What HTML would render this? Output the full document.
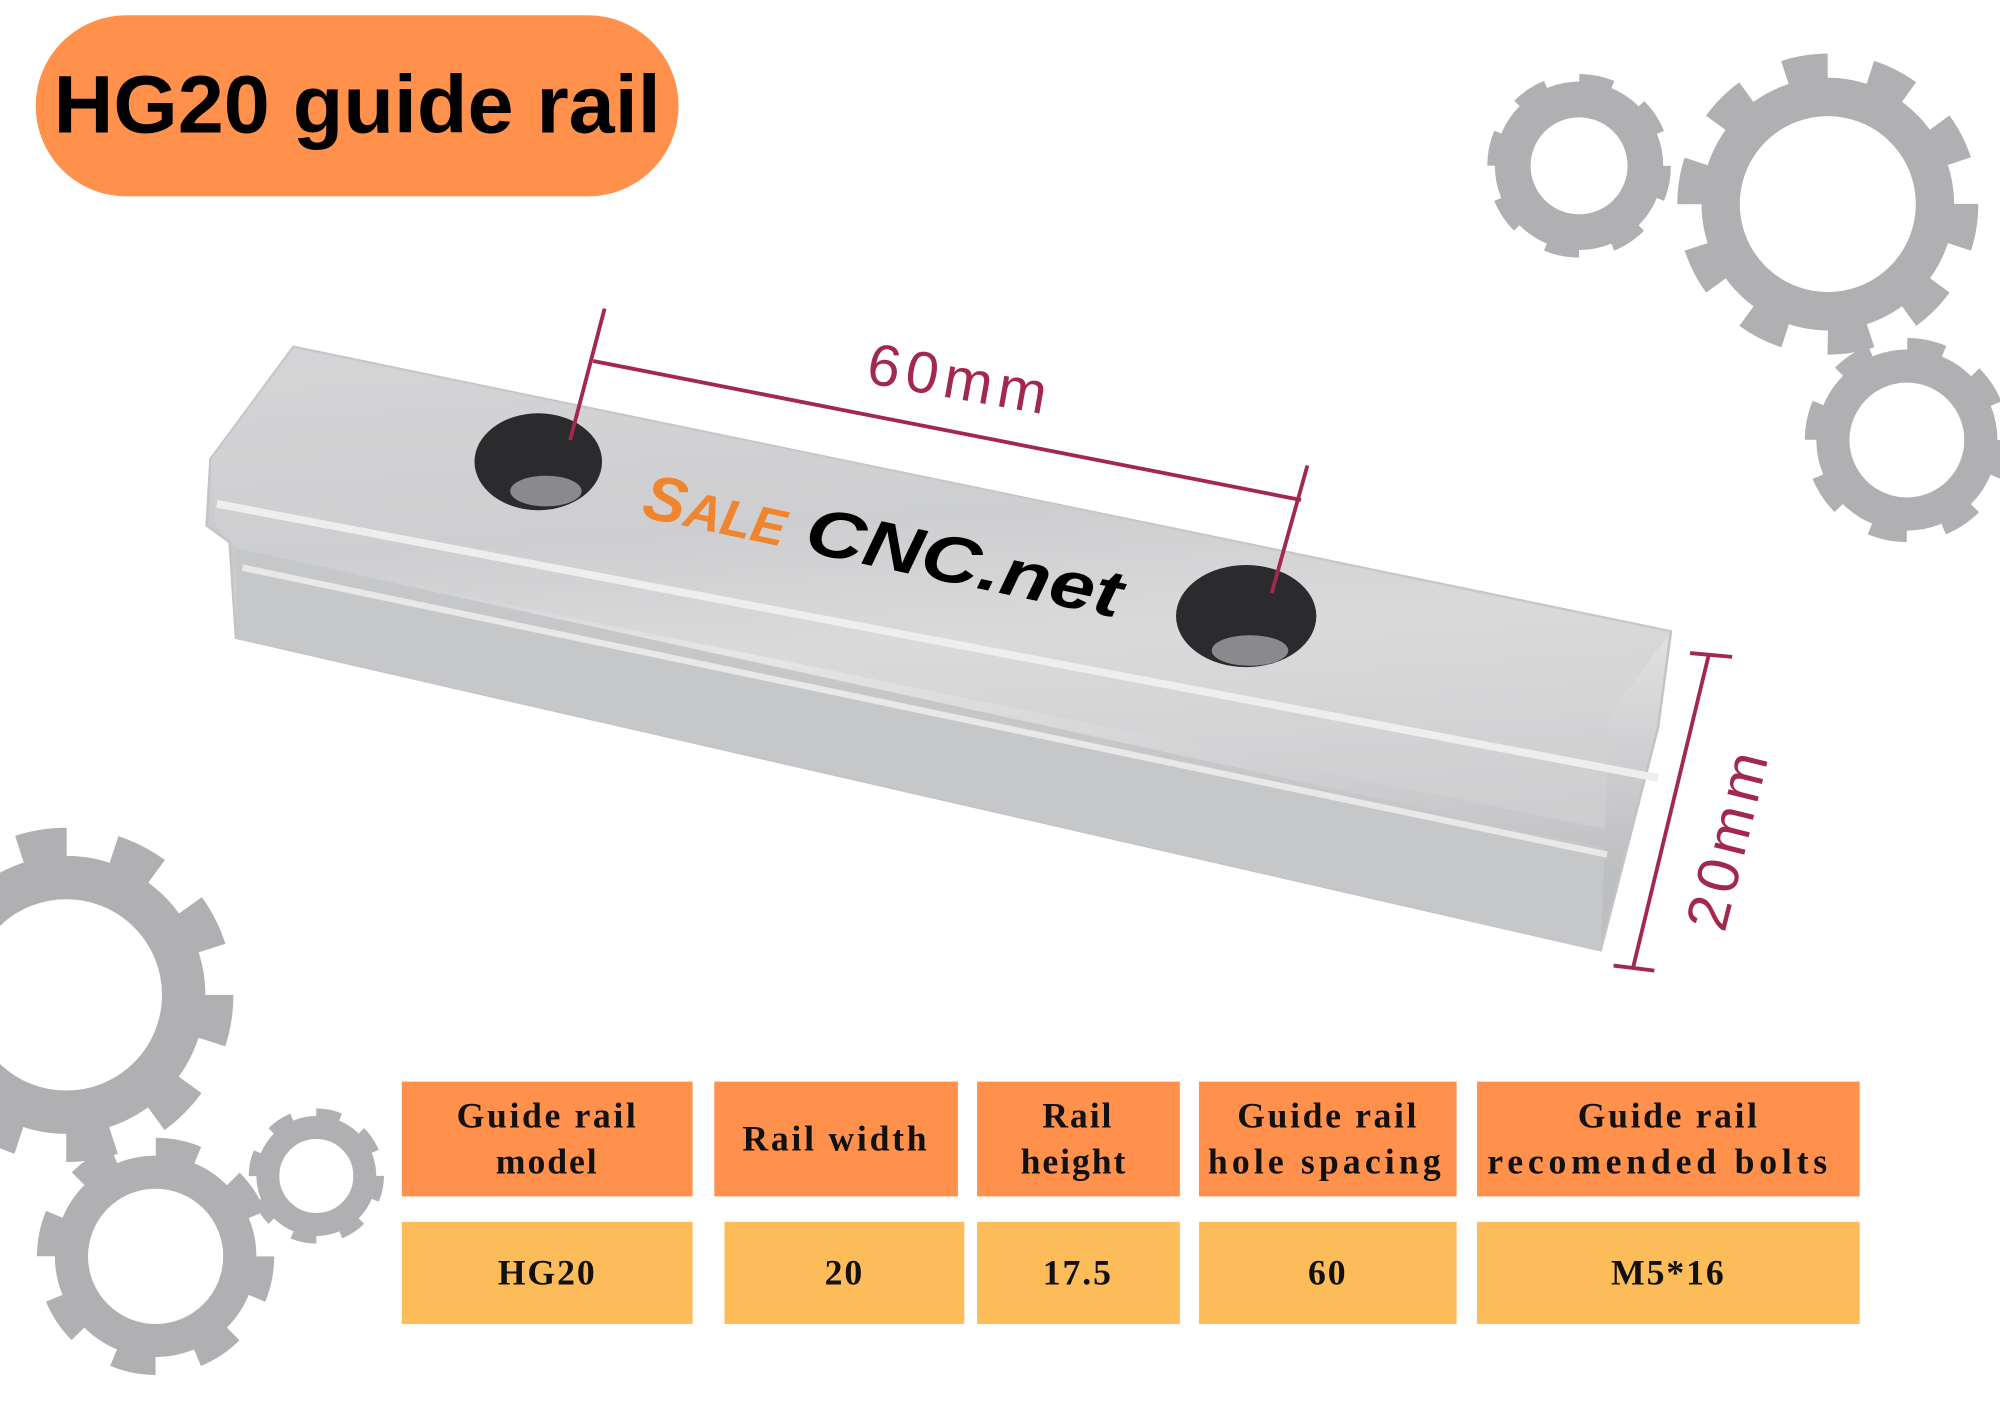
<!DOCTYPE html>
<html><head><meta charset="utf-8"><style>
html,body{margin:0;padding:0;background:#fff;width:2000px;height:1414px;overflow:hidden}
svg{display:block}
</style></head><body>
<svg width="2000" height="1414" viewBox="0 0 1568 1108.6" preserveAspectRatio="none" xmlns="http://www.w3.org/2000/svg">
<defs>
<linearGradient id="rg" x1="0" y1="0" x2="0.15" y2="1">
<stop offset="0" stop-color="#d9d9db"/><stop offset="0.35" stop-color="#c8c9cb"/><stop offset="0.55" stop-color="#e6e6e7"/><stop offset="1" stop-color="#bdbec0"/></linearGradient>
</defs>
<rect x="28" y="12" width="504" height="142" rx="71" fill="#FF914D"/>
<text x="42" y="104" textLength="476" lengthAdjust="spacingAndGlyphs" font-family="Liberation Sans, sans-serif" font-weight="bold" font-size="64" fill="#000">HG20 guide rail</text>

<g fill="none" stroke="#b0b0b2">
 <circle cx="1238" cy="130" r="52" stroke-width="28"/>
 <circle cx="1238" cy="130" r="62" stroke-width="20" stroke-dasharray="24.3 24.4"/>
 <circle cx="1433" cy="160" r="84" stroke-width="30"/>
 <circle cx="1433" cy="160" r="104" stroke-width="28" stroke-dasharray="32.7 32.6"/>
 <circle cx="1495" cy="345" r="58" stroke-width="26"/>
 <circle cx="1495" cy="345" r="70" stroke-width="20" stroke-dasharray="27.5 27.5"/>
 <circle cx="52" cy="780" r="92" stroke-width="34"/>
 <circle cx="52" cy="780" r="116" stroke-width="30" stroke-dasharray="36.4 36.5"/>
 <circle cx="122" cy="985" r="66" stroke-width="26"/>
 <circle cx="122" cy="985" r="82" stroke-width="22" stroke-dasharray="32.2 32.2"/>
 <circle cx="248" cy="922" r="38" stroke-width="18"/>
 <circle cx="248" cy="922" r="46" stroke-width="14" stroke-dasharray="18 18.1"/>
</g>

<polygon points="230,272 1310,495 1300,570 1255,745 185,500 180,425 162,412 165,360" fill="url(#rg)" stroke="#c4c4c6" stroke-width="2"/>
<polygon points="165,360 230,272 1310,495 1262,560 1258,650 185,430 168,410" fill="#d2d2d4" opacity="0.6"/>
<polygon points="185,430 1258,665 1255,745 185,500" fill="#c6c7c9"/>
<line x1="170" y1="395" x2="1300" y2="610" stroke="#eeeeef" stroke-width="6"/>
<line x1="190" y1="445" x2="1260" y2="670" stroke="#e8e8e9" stroke-width="5"/>
<ellipse cx="422" cy="362" rx="50" ry="38" fill="#2b2b2d"/>
<ellipse cx="428" cy="385" rx="28" ry="12" fill="#8a8a8c"/>
<ellipse cx="977" cy="483" rx="55" ry="40" fill="#2b2b2d"/>
<ellipse cx="980" cy="510" rx="30" ry="12" fill="#8a8a8c"/>

<g transform="translate(502,405) rotate(12)" font-family="Liberation Sans, sans-serif" font-weight="bold" font-style="italic">
 <text x="0" y="0" font-size="50" fill="#F0852F">S<tspan font-size="40">ALE</tspan></text>
 <text x="130" y="0" font-size="52" fill="#000" textLength="252" lengthAdjust="spacingAndGlyphs">CNC.net</text>
</g>

<g stroke="#A3284E" stroke-width="3" fill="none">
 <line x1="474" y1="242" x2="447" y2="345"/>
 <line x1="465" y1="283" x2="1020" y2="392"/>
 <line x1="1025" y1="365" x2="997" y2="465"/>
 <line x1="1340" y1="512" x2="1280" y2="760"/>
 <line x1="1325" y1="512" x2="1358" y2="515"/>
 <line x1="1265" y1="757" x2="1297" y2="761"/>
</g>
<text transform="translate(678,300) rotate(10)" font-family="Liberation Sans, sans-serif" font-size="46" fill="#A3284E" textLength="142">60mm</text>
<text transform="translate(1352,732) rotate(-76)" font-family="Liberation Sans, sans-serif" font-size="46" fill="#A3284E" textLength="142">20mm</text>

<g fill="#FF914D">
 <rect x="315" y="848" width="228" height="90"/>
 <rect x="560" y="848" width="191" height="90"/>
 <rect x="766" y="848" width="159" height="90"/>
 <rect x="940" y="848" width="202" height="90"/>
 <rect x="1158" y="848" width="300" height="90"/>
</g>
<g fill="#FDBC5A">
 <rect x="315" y="958" width="228" height="80"/>
 <rect x="568" y="958" width="188" height="80"/>
 <rect x="766" y="958" width="159" height="80"/>
 <rect x="940" y="958" width="202" height="80"/>
 <rect x="1158" y="958" width="300" height="80"/>
</g>
<g font-family="Liberation Serif, serif" font-weight="bold" font-size="28" fill="#111" text-anchor="middle" letter-spacing="1.5">
 <text x="429" y="884" textLength="142">Guide rail</text><text x="429" y="920">model</text>
 <text x="655" y="902" textLength="146">Rail width</text>
 <text x="845" y="884">Rail</text><text x="842" y="920">height</text>
 <text x="1041" y="884" textLength="142">Guide rail</text><text x="1039" y="920" textLength="184">hole spacing</text>
 <text x="1308" y="884" textLength="142">Guide rail</text><text x="1300" y="920" textLength="268">recomended bolts</text>
 <text x="429" y="1007">HG20</text>
 <text x="662" y="1007">20</text>
 <text x="845" y="1007">17.5</text>
 <text x="1041" y="1007">60</text>
 <text x="1308" y="1007">M5*16</text>
</g>
</svg>
</body></html>
